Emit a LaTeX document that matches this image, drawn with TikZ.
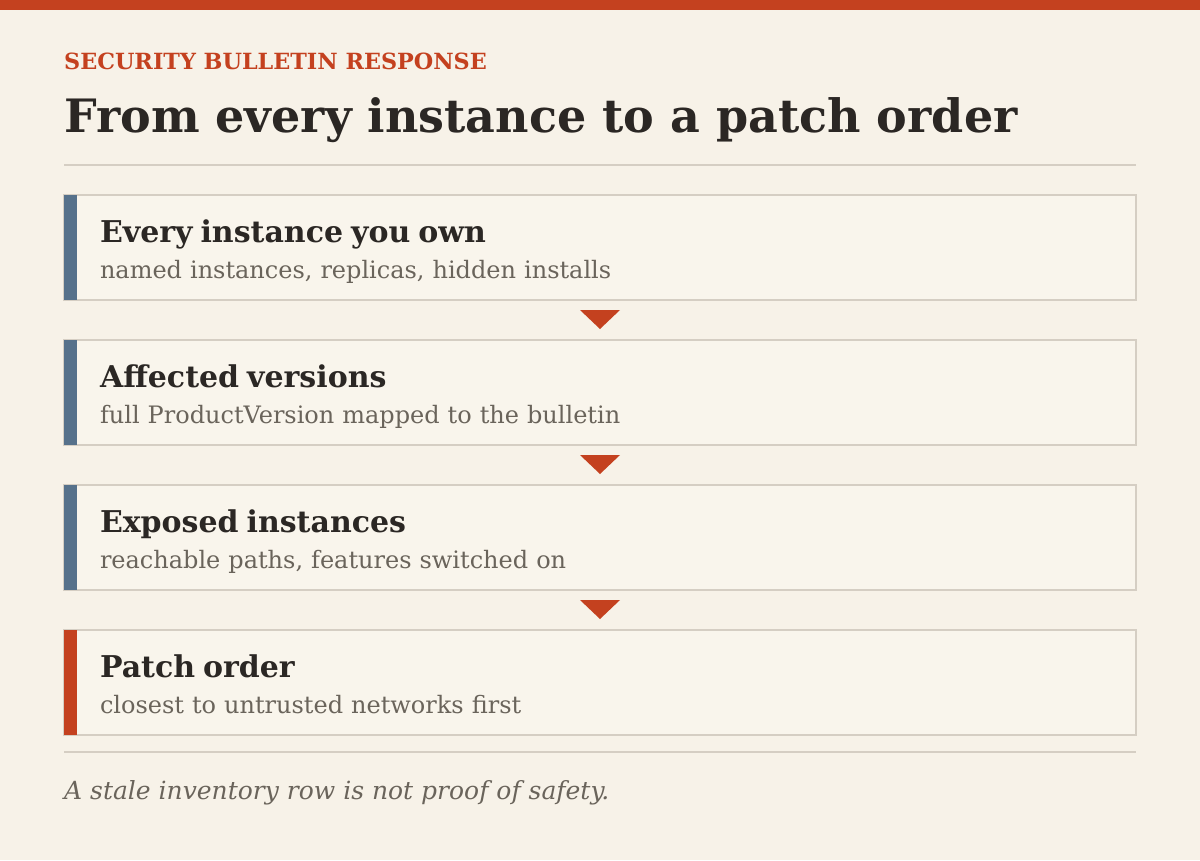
\documentclass[tikz,border=0pt]{standalone}
\usepackage{fontspec}
\setmainfont{DejaVu Serif}
\usetikzlibrary{positioning}
\usepackage{xcolor}

\definecolor{paper}{HTML}{F7F2E8}
\definecolor{boxfill}{HTML}{F9F5EC}
\definecolor{rust}{HTML}{C4411F}
\definecolor{slate}{HTML}{56718B}
\definecolor{ink}{HTML}{2B2724}
\definecolor{muted}{HTML}{6A645B}
\definecolor{rulegray}{HTML}{D5CEC3}

\begin{document}
\begin{tikzpicture}[
    x=1pt, y=-1pt,
    node distance=40pt,
    stage/.style={draw=rulegray, line width=1.6pt, fill=boxfill, rectangle, outer sep=0pt,
        minimum width=1072pt, minimum height=105pt, text width=1000pt,
        text height=25pt, text depth=36pt,
        inner xsep=36pt, align=left, anchor=north west, font=\fontsize{24}{36}\selectfont, text=muted},
    accent/.style={fill=slate},
    marker/.style={fill=rust},
    headline/.style={anchor=base west, inner sep=0pt}
]
\useasboundingbox (0,0) rectangle (1200,860);
\fill[paper] (0,0) rectangle (1200,860);
\fill[rust] (0,0) rectangle (1200,10);

% Titel
\node[headline, text=rust, font=\fontsize{22.3}{26}\selectfont\bfseries] (kicker) at (64,69) {SECURITY BULLETIN RESPONSE};
\node[headline, text=ink, font=\fontsize{46}{52}\selectfont\bfseries] (title) at (64,132) {From every instance to a patch order};
\draw[rulegray, line width=1.6pt] (64,165) -- (1136,165);

% Stufen
\node[stage] (s1) at (64,195) {{\color{ink}\fontsize{30}{36}\selectfont\bfseries Every instance you own}\\named instances, replicas, hidden installs};
\node[stage, below=of s1.south west, anchor=north west] (s2) {{\color{ink}\fontsize{30}{36}\selectfont\bfseries Affected versions}\\full ProductVersion mapped to the bulletin};
\node[stage, below=of s2.south west, anchor=north west] (s3) {{\color{ink}\fontsize{30}{36}\selectfont\bfseries Exposed instances}\\reachable paths, features switched on};
\node[stage, below=of s3.south west, anchor=north west] (s4) {{\color{ink}\fontsize{30}{36}\selectfont\bfseries Patch order}\\closest to untrusted networks first};

% Farbbalken links
\fill[accent] (s1.north west) rectangle ([xshift=13pt]s1.south west);
\fill[accent] (s2.north west) rectangle ([xshift=13pt]s2.south west);
\fill[accent] (s3.north west) rectangle ([xshift=13pt]s3.south west);
\fill[rust] (s4.north west) rectangle ([xshift=13pt]s4.south west);

% Dreiecke zwischen den Stufen
\fill[marker] ([shift={(-20pt,-10pt)}]s1.south) -- ++(40,0) -- ++(-20,19) -- cycle;
\fill[marker] ([shift={(-20pt,-10pt)}]s2.south) -- ++(40,0) -- ++(-20,19) -- cycle;
\fill[marker] ([shift={(-20pt,-10pt)}]s3.south) -- ++(40,0) -- ++(-20,19) -- cycle;

% Fuss
\draw[rulegray, line width=1.6pt] (64,752) -- (1136,752);
\node[headline, text=muted, font=\fontsize{25}{30}\selectfont\itshape] (note) at (64,799) {A stale inventory row is not proof of safety.};
\end{tikzpicture}
\end{document}
